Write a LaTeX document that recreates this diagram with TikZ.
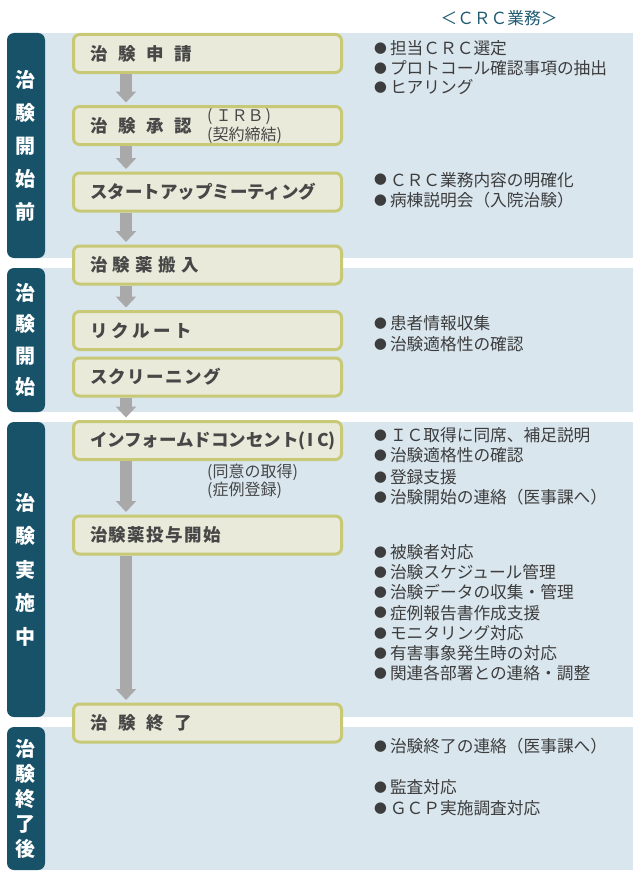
\documentclass[tikz,border=0pt]{standalone}
\usepackage{fontspec}
\setmainfont{Noto Sans CJK JP}
\usetikzlibrary{arrows.meta}
\definecolor{labelteal}{HTML}{175269}
\definecolor{panelblue}{HTML}{D9E6EE}
\definecolor{boxfill}{HTML}{E9EAD9}
\definecolor{boxline}{HTML}{C8C977}
\definecolor{arrowgray}{HTML}{A9A9A9}
\definecolor{titlegray}{HTML}{474747}
\definecolor{itemgray}{HTML}{3D3D3D}
\definecolor{headteal}{HTML}{1F5B72}
\newcommand\tgap[1]{\hspace{#1pt}}
\newcommand\blt{\raisebox{1.3pt}{\fontsize{12.8}{14}\selectfont ●}\hspace{3pt}}
\tikzset{
  panel/.style={fill=panelblue, draw=none},
  phaselabel/.style={fill=labelteal, draw=none, rounded corners=7pt, minimum width=38pt, inner sep=0pt, text=white, align=center},
  stepbox/.style={draw=boxline, line width=3pt, fill=boxfill, rounded corners=6pt, minimum width=268pt, minimum height=38pt, inner xsep=16.5pt, inner ysep=0pt, anchor=west, text=titlegray, font=\fontsize{17.5}{20}\selectfont\bfseries},
  flowarrow/.style={draw=arrowgray, line width=12pt, -{Triangle[width=20pt,length=11pt]}, shorten >=2.5pt},
  item/.style={anchor=west, inner sep=0pt, text=itemgray, font=\fontsize{16.7}{20}\selectfont},
  note/.style={anchor=west, inner sep=0pt, text=titlegray, font=\fontsize{16}{18}\selectfont},
}
\begin{document}
\begin{tikzpicture}[x=1pt,y=-1pt]
\useasboundingbox (0,0) rectangle (640,883);
% panels
\fill[panel] (30,33) rectangle (633,258);
\fill[panel] (30,268) rectangle (633,412);
\fill[panel] (30,422) rectangle (633,717);
\fill[panel] (30,727) rectangle (633,870);
% phase labels
\node[phaselabel, minimum height=225pt, font=\fontsize{20}{33}\selectfont\bfseries] (p1) at (26,145.5) {治\\験\\開\\始\\前};
\node[phaselabel, minimum height=144pt, font=\fontsize{20}{31.5}\selectfont\bfseries] (p2) at (26,340) {治\\験\\開\\始};
\node[phaselabel, minimum height=295pt, font=\fontsize{20}{33.5}\selectfont\bfseries] (p3) at (26,569.5) {治\\験\\実\\施\\中};
\node[phaselabel, minimum height=143pt, font=\fontsize{20}{25}\selectfont\bfseries] (p4) at (26,798.5) {治\\験\\終\\了\\後};
% header
\node[inner sep=0pt, text=headteal, font=\fontsize{16.7}{20}\selectfont] (head) at (499,18) {＜ＣＲＣ業務＞};
% step boxes
\node[stepbox] (b1) at (72,53.5) {\makebox[235pt][l]{治\tgap{10.8}験\tgap{10.8}申\tgap{10.8}請}};
\node[stepbox] (b2) at (72,125.5) {\makebox[235pt][l]{治\tgap{10.8}験\tgap{10.8}承\tgap{10.8}認}};
\node[stepbox] (b3) at (72,192) {\makebox[235pt][l]{スタートアップミーティング}};
\node[stepbox] (b4) at (72,265) {\makebox[235pt][l]{治\tgap{5.4}験\tgap{5.4}薬\tgap{5.4}搬\tgap{5.4}入}};
\node[stepbox] (b5) at (72,330.5) {\makebox[235pt][l]{リ\tgap{3.5}ク\tgap{3.5}ル\tgap{3.5}ー\tgap{3.5}ト}};
\node[stepbox] (b6) at (72,377) {\makebox[235pt][l]{ス\tgap{1.5}ク\tgap{1.5}リ\tgap{1.5}ー\tgap{1.5}ニ\tgap{1.5}ン\tgap{1.5}グ}};
\node[stepbox] (b7) at (72,440.5) {\makebox[235pt][l]{インフォームドコンセント(\tgap{2}I\tgap{3}C)}};
\node[stepbox] (b8) at (72,535) {\makebox[235pt][l]{治\tgap{1.5}験\tgap{1.5}薬\tgap{1.5}投\tgap{1.5}与\tgap{1.5}開\tgap{1.5}始}};
\node[stepbox] (b9) at (72,723) {\makebox[235pt][l]{治\tgap{10.8}験\tgap{10.8}終\tgap{10.8}了}};
% arrows
\coordinate (ax) at (126,0);
\draw[flowarrow] (b1.south -| ax) -- (b2.north -| ax);
\draw[flowarrow] (b2.south -| ax) -- (b3.north -| ax);
\draw[flowarrow] (b3.south -| ax) -- (b4.north -| ax);
\draw[flowarrow] (b4.south -| ax) -- (b5.north -| ax);
\draw[flowarrow] (b6.south -| ax) -- (b7.north -| ax);
\draw[flowarrow] (b7.south -| ax) -- (b8.north -| ax);
\draw[flowarrow] (b8.south -| ax) -- (b9.north -| ax);
% notes
\node[note] (n1) at (207,117) {(\tgap{3}ＩＲＢ\tgap{2})};
\node[note] (n2) at (207,135) {(契約締結)};
\node[note] (n3) at (207,472) {(同意の取得)};
\node[note] (n4) at (207,490) {(症例登録)};
% CRC items
\node[item] (i1) at (374,48) {\blt 担当ＣＲＣ選定};
\node[item] (i2) at (374,68) {\blt プロトコール確認事項の抽出};
\node[item] (i3) at (374,87) {\blt ヒアリング};
\node[item] (i4) at (374,180) {\blt ＣＲＣ業務内容の明確化};
\node[item] (i5) at (374,200) {\blt 病棟説明会（入院治験）};
\node[item] (i6) at (374,323) {\blt 患者情報収集};
\node[item] (i7) at (374,344) {\blt 治験適格性の確認};
\node[item] (i8) at (374,435) {\blt ＩＣ取得に同席、補足説明};
\node[item] (i9) at (374,455) {\blt 治験適格性の確認};
\node[item] (i10) at (374,477) {\blt 登録支援};
\node[item] (i11) at (374,497) {\blt 治験開始の連絡（医事課へ）};
\node[item] (i12) at (374,552) {\blt 被験者対応};
\node[item] (i13) at (374,572) {\blt 治験スケジュール管理};
\node[item] (i14) at (374,592) {\blt 治験データの収集・管理};
\node[item] (i15) at (374,613) {\blt 症例報告書作成支援};
\node[item] (i16) at (374,633) {\blt モニタリング対応};
\node[item] (i17) at (374,653) {\blt 有害事象発生時の対応};
\node[item] (i18) at (374,673) {\blt 関連各部署との連絡・調整};
\node[item] (i19) at (374,746) {\blt 治験終了の連絡（医事課へ）};
\node[item] (i20) at (374,787) {\blt 監査対応};
\node[item] (i21) at (374,808) {\blt ＧＣＰ実施調査対応};
\end{tikzpicture}
\end{document}
